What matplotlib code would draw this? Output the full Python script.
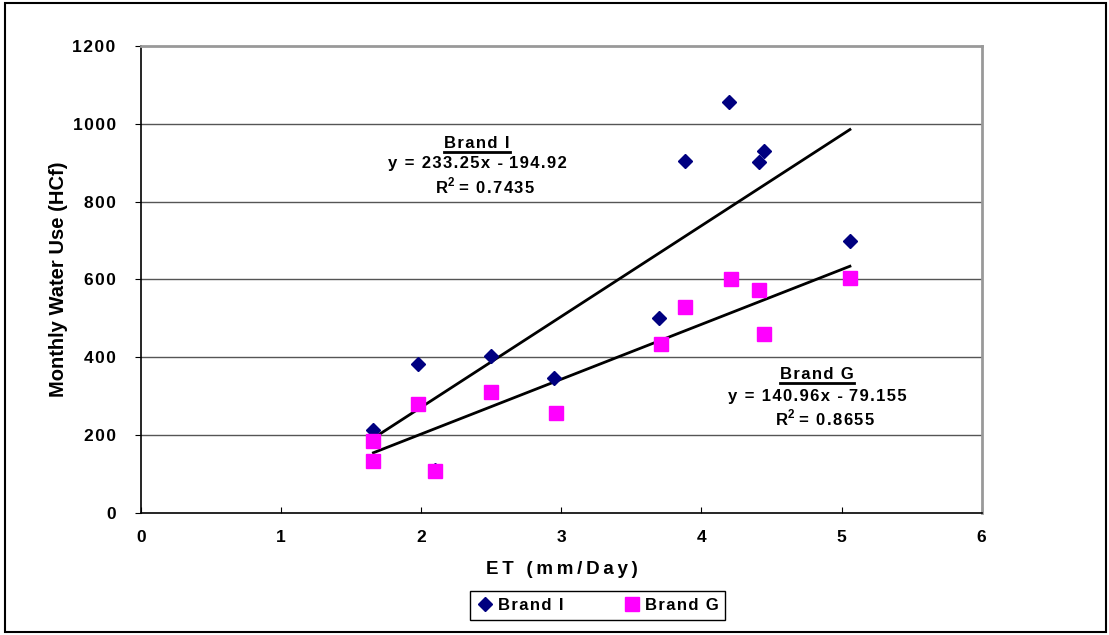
import matplotlib
matplotlib.use("Agg")
import matplotlib.pyplot as plt
from matplotlib.lines import Line2D
from matplotlib.patches import Rectangle

# Brand I (diamonds)
et_i = [1.66, 1.98, 2.10, 2.50, 2.95, 3.70, 3.88, 4.20, 4.41, 4.45, 5.06]
use_i = [213, 383, 110, 403, 347, 501, 905, 1057, 902, 930, 699]
# Brand G (squares)
et_g = [1.66, 1.66, 1.98, 2.10, 2.50, 2.96, 3.71, 3.88, 4.21, 4.41, 4.45, 5.06]
use_g = [185, 134, 280, 108, 311, 257, 434, 530, 602, 573, 460, 604]

# trendline coefficients
fit_i = (233.25, -194.92, 0.7435)
fit_g = (140.96, -79.155, 0.8655)

x_ticks = [0, 1, 2, 3, 4, 5, 6]
y_ticks = [0, 200, 400, 600, 800, 1000, 1200]

plt.rcParams["font.family"] = ["Liberation Sans", "DejaVu Sans"]
plt.rcParams["mathtext.fontset"] = "custom"
plt.rcParams["mathtext.rm"] = "Liberation Sans:bold"
plt.rcParams["mathtext.bf"] = "Liberation Sans:bold"


def sp(s, gap="\u200a"):
    # excel-like letter spacing
    return gap.join(s)


fig = plt.figure(figsize=(11.09, 6.35), dpi=100)
ax = fig.add_axes([0.1269, 0.1921, 0.8852 - 0.1269, 0.9276 - 0.1921])

# figure border
fig.patches.append(Rectangle((5 / 1109, 3 / 635), 1101 / 1109, 629 / 635,
                             transform=fig.transFigure, fill=False,
                             edgecolor="black", linewidth=1.5))

for y in y_ticks[1:-1]:
    ax.axhline(y, color="#555555", linewidth=1, zorder=1)

for fit in (fit_i, fit_g):
    xs = [min(et_i + et_g), max(et_i + et_g)]
    ax.plot(xs, [fit[0] * v + fit[1] for v in xs], color="black",
            linewidth=2, zorder=2)

ax.plot(et_i, use_i, linestyle="none", marker="D", markersize=7,
        color="#000080", label=sp("Brand I"), zorder=3)
ax.plot(et_g, use_g, linestyle="none", marker="s", markersize=10,
        color="#FF00FF", label=sp("Brand G"), zorder=4)

ax.set_xlim(0, 6)
ax.set_ylim(0, 1200)
ax.set_xticks(x_ticks)
ax.set_yticks(y_ticks)
ax.set_xticklabels([sp(str(v)) for v in x_ticks], fontsize=12.5, fontweight="bold")
ax.set_yticklabels([sp(str(v)) for v in y_ticks], fontsize=12.5, fontweight="bold")
ax.tick_params(axis="x", direction="in", length=4, pad=12)
ax.tick_params(axis="y", direction="out", length=4, pad=14)

for s in ("top", "right"):
    ax.spines[s].set_color("#999999")
    ax.spines[s].set_linewidth(2)
for s in ("left", "bottom"):
    ax.spines[s].set_color("black")
    ax.spines[s].set_linewidth(1.2)

ax.set_ylabel("Monthly Water Use (HCf)", fontsize=14.5, fontweight="bold")
ax.yaxis.set_label_coords(-0.086, 0.5)
fig.text(562 / 1109, 1 - 570 / 635, sp("ET (mm/Day)", "\u2009"), fontsize=13.5,
         fontweight="bold", ha="center", va="center")

leg = ax.legend(loc="center", bbox_to_anchor=(597.5 / 1109, 1 - 605.5 / 635),
                bbox_transform=fig.transFigure, ncol=2, frameon=True,
                fancybox=False, edgecolor="black", framealpha=1,
                prop={"size": 12, "weight": "bold"}, handlelength=1,
                handletextpad=0.3, columnspacing=3.6, borderpad=0.4)
leg.get_frame().set_linewidth(1)


def trend_label(cx, y0, name, fit):
    t = fig.text(cx / 1109, 1 - y0 / 635, sp(name), fontsize=12,
                 fontweight="bold", ha="center", va="center")
    fig.text(cx / 1109, 1 - (y0 + 21) / 635,
             sp("y = %.2fx - " % fit[0]) + sp(("%g" % -fit[1])),
             fontsize=12, fontweight="bold", ha="center", va="center")
    fig.text((cx + 8) / 1109, 1 - (y0 + 43) / 635,
             "R$^{2}$ " + sp("= %g" % fit[2]), fontsize=12,
             fontweight="bold", ha="center", va="center")
    return t


t_i = trend_label(477, 143, "Brand I", fit_i)
t_g = trend_label(817, 375, "Brand G", fit_g)

fig.canvas.draw()
for t in (t_i, t_g):
    bb = t.get_window_extent()
    fig.add_artist(Line2D([bb.x0, bb.x1], [bb.y0 - 1, bb.y0 - 1],
                          color="black", linewidth=2, transform=None))

fig.savefig("out.png", dpi=100)
